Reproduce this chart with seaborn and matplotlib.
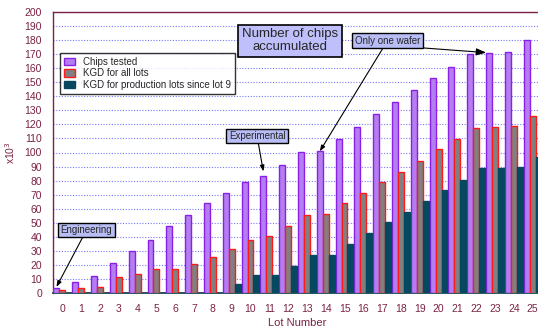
import numpy as np
import pandas as pd
import matplotlib
matplotlib.use("Agg")
import matplotlib.pyplot as plt
from matplotlib.patches import Patch
import seaborn as sns

# Cumulative chip counts per lot (thousands)
lots = list(range(26))
chips_tested = [3.3, 7.6, 12, 21, 30, 38, 47.5, 55.7, 64.3, 71.2, 79, 83.5, 91.3,
                100.3, 100.8, 109.6, 118.4, 127.4, 135.7, 144.3, 153.2, 161,
                170.3, 170.6, 171.3, 179.8]
kgd_all = [2.4, 3.8, 4.3, 11.2, 13.8, 17.3, 17.3, 20.4, 25.4, 31.5, 37.9, 40.8,
           47.5, 55.5, 56, 63.8, 71.4, 78.8, 86.1, 93.7, 102.3, 109.4, 117.7,
           117.9, 118.6, 125.8]
kgd_prod = [0, 0, 0, 0, 0, 0, 0, 0, 0, 6.2, 12.6, 12.6, 19, 27, 27.3, 35.1, 42.9,
            50.3, 57.7, 65.5, 73.3, 80.6, 89.2, 89.2, 89.9, 96.8]
series_names = ["Chips tested", "KGD for all lots",
                "KGD for production lots since lot 9"]
y_ticks = list(range(0, 201, 10))

fills = ["#b57ef0", "#808080", "#06485f"]
edges = ["#8a1fe6", "#ff1a1a", "#06485f"]
maroon = "#7a2245"

df = pd.DataFrame({
    "lot": lots * 3,
    "series": [s for s in series_names for _ in lots],
    "value": chips_tested + kgd_all + kgd_prod,
})

sns.set_theme(style="white")
plt.rcParams["font.family"] = ["Liberation Sans", "DejaVu Sans"]

fig = plt.figure(figsize=(5.38, 3.29), dpi=100)
W, H = 538, 329
ax = fig.add_axes([53 / W, 36 / H, 489 / W, 281 / H])

bar_width = 0.95
sns.barplot(data=df, x="lot", y="value", hue="series", order=lots,
            hue_order=series_names, palette=fills, width=bar_width,
            saturation=1, dodge=True, legend=False, ax=ax, zorder=3)
for cont, ec in zip(ax.containers, edges):
    for bar in cont:
        bar.set_edgecolor(ec)
        bar.set_linewidth(1.0)

ax.set_xlim(-0.5, len(lots) - 0.5)
ax.set_ylim(0, 200)
ax.set_yticks(y_ticks)
ax.yaxis.grid(True, linestyle=(0, (1, 1.5)), color="#7878ff", linewidth=0.8, zorder=0)
ax.set_axisbelow(True)

ax.set_xticks(lots)
ax.set_xticklabels([str(l) for l in lots])
ax.set_xticks(np.arange(-0.5, len(lots), 1.0), minor=True)
ax.tick_params(axis="x", which="major", length=0, labelsize=7.5,
               labelcolor=maroon, pad=8)
ax.tick_params(axis="x", which="minor", length=6, width=1, color=maroon,
               direction="out")
ax.tick_params(axis="y", length=6, width=1, color=maroon, direction="out",
               labelsize=7.5, labelcolor=maroon, pad=2)

for side in ["left", "top"]:
    ax.spines[side].set_color(maroon)
    ax.spines[side].set_linewidth(1.0)
ax.spines["right"].set_visible(False)
ax.spines["bottom"].set_color("#1d4658")
ax.spines["bottom"].set_linewidth(1.3)

ax.set_xlabel("Lot Number", color=maroon, fontsize=8, labelpad=3)
ax.set_ylabel("x10$^3$", color=maroon, fontsize=7.5, labelpad=5)

handles = [Patch(facecolor=f, edgecolor=e, linewidth=1) for f, e in zip(fills, edges)]
leg = ax.legend(handles, series_names, loc="upper left",
                bbox_to_anchor=(0.005, 0.871), frameon=True, fancybox=False,
                edgecolor="black", fontsize=7, handlelength=1.1,
                handleheight=0.8, handletextpad=0.8, borderpad=0.4,
                labelspacing=0.15)
leg.get_frame().set_linewidth(1.0)
leg.set_zorder(5)

off = bar_width / 3
box = dict(boxstyle="square,pad=0.25", facecolor="#b8bdf5", edgecolor="black",
           linewidth=1)
arrow = dict(arrowstyle="-|>,head_length=0.5,head_width=0.18", color="black",
             linewidth=0.8, shrinkA=0, shrinkB=0)

ax.annotate("Engineering", xy=(0 - off, chips_tested[0] + 1),
            xytext=(1.28, 44.8), ha="center", va="center", fontsize=7,
            bbox=box, arrowprops=arrow, zorder=6)
ax.annotate("Experimental", xy=(11 - off, chips_tested[11] + 3),
            xytext=(10.35, 111.7), ha="center", va="center", fontsize=7,
            bbox=box, arrowprops=arrow, zorder=6)
ax.annotate("Number of chips\naccumulated", xy=(12.1, 179.4),
            ha="center", va="center", fontsize=9.5, linespacing=1.1,
            bbox=dict(boxstyle="square,pad=0.3", facecolor="#bfc0fb",
                      edgecolor="black", linewidth=1.2), zorder=6)
ax.annotate("Only one wafer", xy=(14 - off, chips_tested[14]),
            xytext=(17.29, 179.7), ha="center", va="center", fontsize=7,
            bbox=box, arrowprops=arrow, zorder=6)
ax.annotate("", xy=(23 - off - 0.15, chips_tested[23] + 0.5),
            xytext=(19.2, 174.4), arrowprops=arrow, zorder=6)

fig.savefig("out.png", dpi=100)
